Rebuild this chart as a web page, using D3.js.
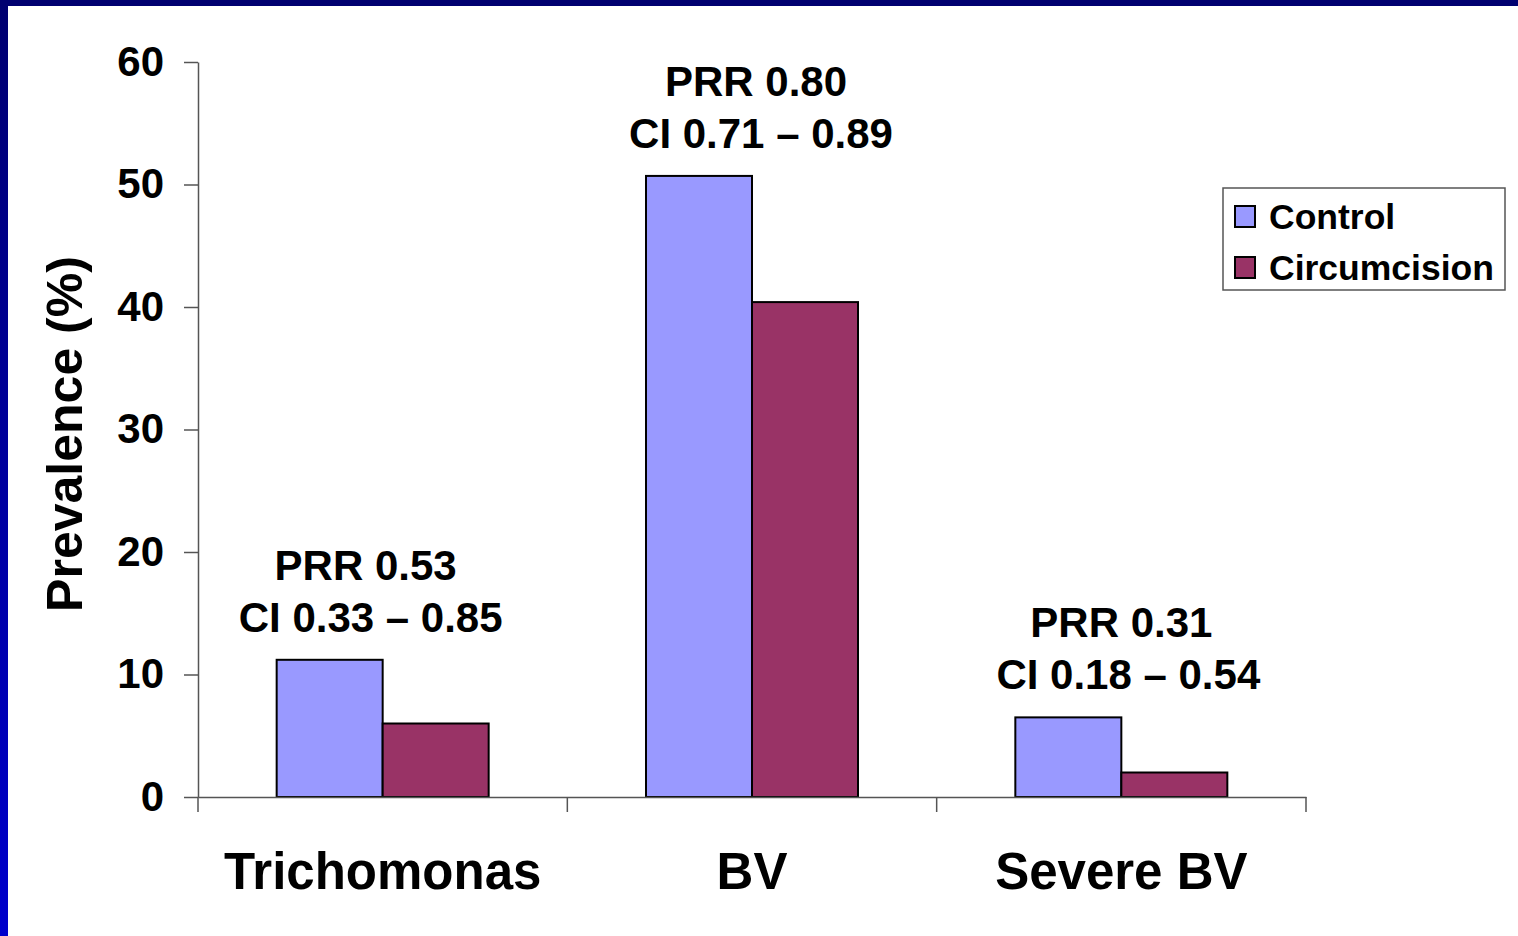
<!DOCTYPE html>
<html><head><meta charset="utf-8">
<script src="https://cdn.jsdelivr.net/npm/d3@7"></script>
<style>html,body{margin:0;padding:0;background:#fff;overflow:hidden}</style>
</head><body>
<script>
const categories = ["Trichomonas", "BV", "Severe BV"];
const seriesNames = ["Control", "Circumcision"];
const controlValues = [11.2, 50.7, 6.5];
const circumcisionValues = [6.0, 40.4, 2.0];
const prrLabels = ["PRR 0.53", "PRR 0.80", "PRR 0.31"];
const ciLabels = ["CI 0.33 \u2013 0.85", "CI 0.71 \u2013 0.89", "CI 0.18 \u2013 0.54"];
const yTicks = [0, 10, 20, 30, 40, 50, 60];
const colors = ["#9999ff", "#993366"];

const W = 1518, H = 936;
const svg = d3.select("body").append("svg").attr("width", W).attr("height", H);
const font = "'Liberation Sans', Arial, sans-serif";

// frame
const defs = svg.append("defs");
const g1 = defs.append("linearGradient").attr("id", "lg").attr("x1", 0).attr("y1", 0).attr("x2", 0).attr("y2", 1);
g1.append("stop").attr("offset", "0%").attr("stop-color", "#000070");
g1.append("stop").attr("offset", "100%").attr("stop-color", "#0000cc");
svg.append("rect").attr("x", 0).attr("y", 0).attr("width", 8).attr("height", H).attr("fill", "url(#lg)");
svg.append("rect").attr("x", 0).attr("y", 0).attr("width", W).attr("height", 6).attr("fill", "#000070");

const x0 = 198, x1 = 1306, yBot = 797, yTop = 62;
const x = d3.scaleBand().domain(categories).range([x0, x1]).paddingInner(0).paddingOuter(0);
const y = d3.scaleLinear().domain([0, 60]).range([yBot, yTop]);
const barW = 106;
const xs = d3.scaleBand().domain(seriesNames).range([0, barW * 2]);

// bars
const data = categories.map((c, i) => ({c, vals: [controlValues[i], circumcisionValues[i]]}));
const groups = svg.append("g").selectAll("g").data(data).join("g")
  .attr("transform", d => `translate(${x(d.c) + x.bandwidth() / 2 - barW},0)`);
groups.selectAll("rect").data(d => d.vals.map((v, k) => ({v, k})))
  .join("rect")
  .attr("x", d => xs(seriesNames[d.k]))
  .attr("y", d => y(d.v))
  .attr("width", xs.bandwidth())
  .attr("height", d => yBot - y(d.v))
  .attr("fill", d => colors[d.k])
  .attr("stroke", "#000").attr("stroke-width", 2);

// y axis
const ya = svg.append("g").attr("transform", `translate(${x0},0)`)
  .call(d3.axisLeft(y).tickValues(yTicks).tickSize(14).tickPadding(20).tickSizeOuter(0));
ya.select(".domain").attr("stroke", "#555").attr("stroke-width", 1.5);
ya.selectAll(".tick line").attr("stroke", "#555").attr("stroke-width", 1.5);
ya.selectAll("text").attr("font-family", font).attr("font-weight", "bold").attr("font-size", 42).attr("fill", "#000");

// x axis
const xa = svg.append("g").attr("transform", `translate(0,${yBot})`)
  .call(d3.axisBottom(x).tickSize(0).tickPadding(56).tickSizeOuter(0));
xa.select(".domain").attr("stroke", "#555").attr("stroke-width", 1.5);
xa.selectAll("text").attr("font-family", font).attr("font-weight", "bold").attr("font-size", 51).attr("fill", "#000");
const bounds = categories.map(c => x(c)).concat([x1]);
xa.selectAll(".sep").data(bounds).join("line").attr("class", "sep")
  .attr("x1", d => d).attr("x2", d => d).attr("y1", 0).attr("y2", 15)
  .attr("stroke", "#555").attr("stroke-width", 1.5);

// y title
svg.append("text").attr("transform", `translate(82,${(258 + 610) / 2}) rotate(-90)`)
  .attr("text-anchor", "middle").attr("font-family", font).attr("font-weight", "bold")
  .attr("font-size", 50).attr("fill", "#000").text("Prevalence (%)");

// annotations
const ann = svg.append("g");
ann.selectAll(".prr").data(categories).join("text").attr("class", "prr")
  .attr("x", (c, i) => x(c) + x.bandwidth() / 2 - (i === 0 ? 17 : 0) + (i === 1 ? 4 : 0))
  .attr("y", (c, i) => y(controlValues[i]) - 80)
  .attr("text-anchor", "middle").attr("font-family", font).attr("font-weight", "bold")
  .attr("font-size", 42).attr("fill", "#000").text((c, i) => prrLabels[i]);
ann.selectAll(".ci").data(categories).join("text").attr("class", "ci")
  .attr("x", (c, i) => x(c) + x.bandwidth() / 2 - (i === 0 ? 12 : 0) + (i === 1 ? 9 : 0) + (i === 2 ? 7 : 0))
  .attr("y", (c, i) => y(controlValues[i]) - 28)
  .attr("text-anchor", "middle").attr("font-family", font).attr("font-weight", "bold")
  .attr("font-size", 42).attr("fill", "#000").text((c, i) => ciLabels[i]);

// legend
const lg = svg.append("g").attr("transform", "translate(1223,188)");
lg.append("rect").attr("width", 282).attr("height", 102).attr("fill", "#fff").attr("stroke", "#555").attr("stroke-width", 1.5);
const items = lg.selectAll(".li").data(seriesNames).join("g").attr("class", "li")
  .attr("transform", (d, i) => `translate(12,${18 + i * 51})`);
items.append("rect").attr("width", 20).attr("height", 21).attr("fill", (d, i) => colors[i]).attr("stroke", "#000").attr("stroke-width", 2);
items.append("text").attr("x", 34).attr("y", 23).attr("font-family", font).attr("font-weight", "bold")
  .attr("font-size", 35.5).attr("fill", "#000").text(d => d);
</script>
</body></html>
